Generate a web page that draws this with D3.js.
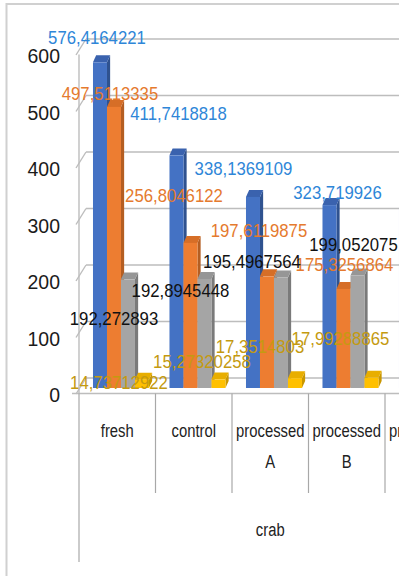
<!DOCTYPE html>
<html>
<head>
<meta charset="utf-8">
<script src="https://cdn.jsdelivr.net/npm/d3@7"></script>
<style>
  body { margin: 0; background: #fff; }
  svg text { font-family: "Liberation Sans", Arial, sans-serif; }
</style>
</head>
<body>
<script>
// values (the last category is cut off at the right edge)
var categories = ["fresh", "control", "processed A", "processed B", "processed C"];
var groupName = "crab";
var blueValues = [576.4164221, 411.7418818, 338.1369109, 323.719926, 320];
var orangeValues = [497.5113335, 256.8046122, 197.6119875, 175.3256864, 150];
var grayValues = [192.272893, 192.8945448, 195.4967564, 199.052075, 190];
var yellowValues = [14.73712922, 15.27320258, 17.3514803, 17.99288865, 17];
var yTicks = [0, 100, 200, 300, 400, 500, 600];

var width = 399, height = 576;

// colours per series: front, side, top, label
var palette = [
    { front: "#4472C4", side: "#2F528F", top: "#3A62AE", label: "#2E86D8" },
    { front: "#ED7D31", side: "#B45E22", top: "#D66E27", label: "#E57A2E" },
    { front: "#A5A5A5", side: "#7A7A7A", top: "#969696", label: "#111111" },
    { front: "#FFC000", side: "#C99700", top: "#E8AE00", label: "#C49A10" }
];

// where Excel dropped each data label, relative to the bar top (layout, not data)
var labelNudge = [
    [[-3, -18], [2, -35], [-9.5, -22], [8, -6], [80, -10]],
    [[-4, -7], [-16.5, -41], [-8, -39], [1, -18], [21, -20]],
    [[-14, 46], [-24, 18], [-29, -9.5], [-4, -24.5], [70, 0]],
    [[-23, 9], [-16.5, -11], [-35, -25], [-31, -33], [70, -30]]
];

var series = [blueValues, orangeValues, grayValues, yellowValues];

// 3d wall depth, and where the bars sit inside it
var depth = { dx: 7, dy: -15.5 };
var barFront = 0.355, barDepth = 0.45;

var svg = d3.select("body")
    .append("svg")
    .attr("width", width)
    .attr("height", height);

// chart frame
svg.append("rect")
    .attr("x", 6.5).attr("y", 4)
    .attr("width", 600).attr("height", 700)
    .attr("fill", "#fff")
    .attr("stroke", "#d0d0d0")
    .attr("stroke-width", 2);

var x = d3.scaleBand()
    .domain(categories)
    .range([79, 79 + 76.5 * categories.length]);

var inner = d3.scaleBand()
    .domain(d3.range(series.length))
    .range([11.5, 67.5]);

var y = d3.scaleLinear()
    .domain([0, 600])
    .range([393.5, 54.5]);

// place a text with a horizontal squeeze (the original is narrower than our fonts)
var placeText = (sel, px, py, sx) => sel.attr("transform", `translate(${px},${py}) scale(${sx},1)`);

var grid = svg.append("g").attr("stroke", "#bdbdbd").attr("stroke-width", 1.4).attr("fill", "none");

// back wall gridlines + the little diagonals on the side wall
yTicks.forEach(v => {
    grid.append("line")
        .attr("x1", x.range()[0] + depth.dx).attr("x2", width + 10)
        .attr("y1", y(v) + depth.dy).attr("y2", y(v) + depth.dy);
    grid.append("line")
        .attr("x1", x.range()[0] - 3).attr("y1", y(v) + 0.5)
        .attr("x2", x.range()[0] + depth.dx).attr("y2", y(v) + depth.dy);
});

// left wall front edge
grid.append("line")
    .attr("x1", 79).attr("x2", 79)
    .attr("y1", y(600)).attr("y2", y(0));

// floor front edge / x axis
svg.append("line")
    .attr("x1", 72).attr("x2", width + 10)
    .attr("y1", y(0)).attr("y2", y(0))
    .attr("stroke", "#bdbdbd").attr("stroke-width", 1.4);

// y tick labels
svg.append("g")
    .selectAll("text")
    .data(yTicks)
    .enter().append("text")
    .attr("text-anchor", "end")
    .attr("font-size", "20.5px")
    .attr("fill", "#1b1b1b")
    .text(d => d)
    .each(function (d) { placeText(d3.select(this), 60, y(d) + 8.5, 0.95); });

// bars, left to right so each front face hides the previous side face
var bars = svg.append("g");
categories.forEach((c, ci) => {
    series.forEach((vals, si) => {
        var v = vals[ci];
        var xl = x(c) + inner(si) + barFront * depth.dx;
        var xr = xl + inner.bandwidth();
        var yt = y(v) + barFront * depth.dy;
        var yb = y(0) + barFront * depth.dy;
        var bx = barDepth * depth.dx, by = barDepth * depth.dy;
        var col = palette[si];
        bars.append("polygon")
            .attr("points", [[xr, yt], [xr + bx, yt + by], [xr + bx, yb + by], [xr, yb]].join(" "))
            .attr("fill", col.side);
        bars.append("polygon")
            .attr("points", [[xl, yt], [xr, yt], [xr + bx, yt + by], [xl + bx, yt + by]].join(" "))
            .attr("fill", col.top);
        bars.append("rect")
            .attr("x", xl).attr("y", yt)
            .attr("width", inner.bandwidth()).attr("height", yb - yt)
            .attr("fill", col.front);
    });
});

// data labels, Excel "General" style with comma decimals
var fmt = v => (+v.toPrecision(10)).toString().replace(".", ",");
var labels = svg.append("g");
series.forEach((vals, si) => {
    vals.forEach((v, ci) => {
        var cx = x(categories[ci]) + inner(si) + inner.bandwidth() / 2 + barFront * depth.dx;
        var cy = y(v) + barFront * depth.dy;
        var n = labelNudge[si][ci];
        var t = labels.append("text")
            .attr("text-anchor", "middle")
            .attr("font-size", "18px")
            .attr("fill", palette[si].label)
            .text(fmt(v))
            .call(placeText, cx + n[0], cy + n[1], 0.93);
        // labels that fall wholly outside the crop are not drawn
        if (cx + n[0] - 50 > width) t.remove();
    });
});

// category dividers
var axisG = svg.append("g").attr("stroke", "#a8a8a8").attr("stroke-width", 1.2);
categories.forEach((c, i) => {
    axisG.append("line")
        .attr("x1", x(c)).attr("x2", x(c))
        .attr("y1", y(0)).attr("y2", i == 0 ? 562 : 493);
});
axisG.append("line")
    .attr("x1", x.range()[1]).attr("x2", x.range()[1])
    .attr("y1", y(0)).attr("y2", 493);

// category labels, wrapped on the space like Excel does when narrow
var catG = svg.append("g");
categories.forEach(c => {
    var cx = x(c) + x.bandwidth() / 2;
    var parts = c.split(" ");
    parts.forEach((p, k) => {
        catG.append("text")
            .attr("text-anchor", "middle")
            .attr("font-size", "19px")
            .attr("fill", "#222")
            .text(p)
            .call(placeText, cx, 437 + k * 31, 0.78);
    });
});

// outer group label
svg.append("text")
    .attr("text-anchor", "middle")
    .attr("font-size", "19px")
    .attr("fill", "#222")
    .text(groupName)
    .call(placeText, (x.range()[0] + x.range()[1]) / 2, 536, 0.78);
</script>
</body>
</html>
